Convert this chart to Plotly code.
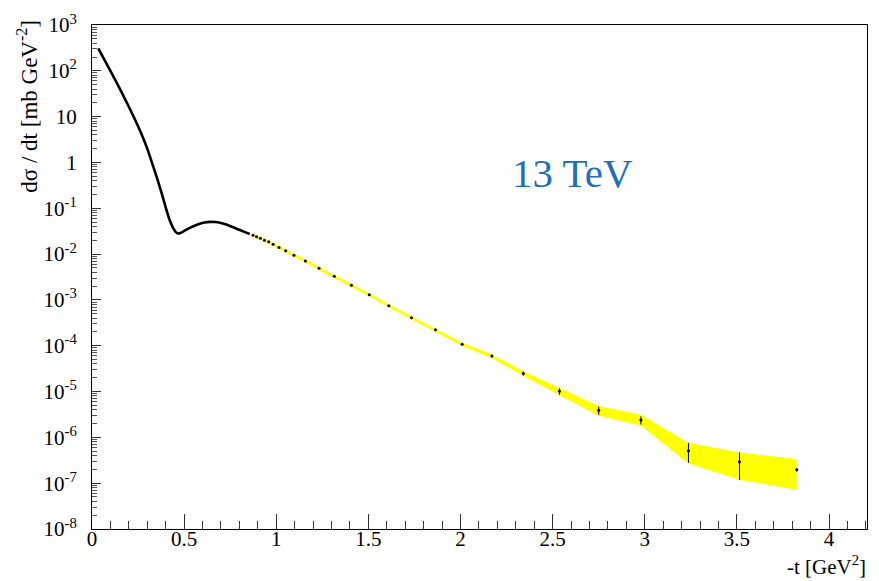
import plotly.graph_objects as go

# ---- data ----
# dense region (-t in GeV^2, dsigma/dt in mb/GeV^2)
t_dense = [0.034, 0.10, 0.15, 0.20, 0.25, 0.278, 0.30, 0.33, 0.36, 0.38, 0.40, 0.42, 0.44,
           0.455, 0.468, 0.48, 0.50, 0.51, 0.531, 0.56, 0.585, 0.61, 0.64, 0.67, 0.694,
           0.72, 0.748, 0.775, 0.802, 0.83, 0.856]
v_dense = [309, 100, 41.2, 16.4, 6.17, 3.39, 2.0, 0.871, 0.372, 0.200, 0.105, 0.0575, 0.0372,
           0.0302, 0.0282, 0.0288, 0.0320, 0.0337, 0.0373, 0.0422, 0.0460, 0.0488, 0.0505,
           0.0501, 0.0484, 0.0452, 0.0412, 0.0372, 0.0335, 0.0302, 0.0275]

# sparse points with error bars
t_pts = [0.874, 0.893, 0.914, 0.936, 0.959, 0.983, 1.015, 1.051, 1.096, 1.158, 1.232,
         1.315, 1.408, 1.505, 1.611, 1.734, 1.864, 2.009, 2.170, 2.341, 2.537, 2.750,
         2.979, 3.237, 3.514, 3.825]
v_pts = [0.0258, 0.0238, 0.0222, 0.0201, 0.0186, 0.0163, 0.0140, 0.0119, 0.00942, 0.00711,
         0.00488, 0.00328, 0.00210, 0.00130, 0.000743, 0.000410, 0.000222, 0.000108,
         5.94e-5, 2.48e-5, 1.01e-5, 3.90e-6, 2.38e-6, 5.13e-7, 2.92e-7, 1.96e-7]
e_pts = [0.0005, 0.0005, 0.0004, 0.0004, 0.0004, 0.0003, 0.0003, 0.0003, 0.0002, 0.0002,
         0.00015, 0.0001, 0.00006, 0.00004, 0.000025, 0.000014, 0.000008, 0.000004,
         4.0e-6, 2.5e-6, 1.6e-6, 0.8e-6, 0.48e-6, 2.35e-7, 1.75e-7, 0.15e-7]

# yellow uncertainty band
band_hi = [0.0272, 0.0251, 0.0234, 0.0212, 0.0196, 0.0172, 0.0148, 0.0126, 0.00995, 0.00751,
           0.00515, 0.00346, 0.00222, 0.00137, 0.000785, 0.000433, 0.000235, 0.000114,
           6.35e-5, 2.72e-5, 1.18e-5, 4.75e-6, 3.05e-6, 7.46e-7, 4.55e-7, 3.28e-7]
band_lo = [0.0245, 0.0226, 0.0211, 0.0191, 0.0177, 0.0155, 0.0133, 0.0113, 0.00895, 0.00675,
           0.00463, 0.00311, 0.00199, 0.00123, 0.000705, 0.000389, 0.000210, 0.000102,
           5.55e-5, 2.26e-5, 8.6e-6, 3.05e-6, 1.86e-6, 2.77e-7, 1.22e-7, 7.4e-8]

y_tick_exp = [3, 2, 1, 0, -1, -2, -3, -4, -5, -6, -7, -8]
y_tick_text = ["10<sup>3</sup>", "10<sup>2</sup>", "10", "1", "10<sup>-1</sup>", "10<sup>-2</sup>",
               "10<sup>-3</sup>", "10<sup>-4</sup>", "10<sup>-5</sup>", "10<sup>-6</sup>",
               "10<sup>-7</sup>", "10<sup>-8</sup>"]
x_tick_vals = [0, 0.5, 1, 1.5, 2, 2.5, 3, 3.5, 4]
x_tick_text = ["0", "0.5", "1", "1.5", "2", "2.5", "3", "3.5", "4"]

# ---- figure ----
W, H = 879, 581
ml, mr, mt, mb = 92, 11, 17, 52
FONT = "Liberation Serif, Times New Roman, serif"

fig = go.Figure()
fig.add_trace(go.Scatter(x=t_pts, y=band_lo, mode="lines",
                         line=dict(color="#FFFF00", width=1), showlegend=False, hoverinfo="skip"))
fig.add_trace(go.Scatter(x=t_pts, y=band_hi, mode="lines", fill="tonexty",
                         fillcolor="#FFFF00", line=dict(color="#FFFF00", width=1),
                         showlegend=False, hoverinfo="skip"))
fig.add_trace(go.Scatter(x=t_dense, y=v_dense, mode="lines",
                         line=dict(color="black", width=2.6, shape="spline", smoothing=0.5),
                         showlegend=False))
fig.add_trace(go.Scatter(x=t_pts, y=v_pts, mode="markers",
                         marker=dict(color="black", size=3, symbol="circle"),
                         error_y=dict(type="data", array=e_pts, color="black", thickness=1, width=0),
                         showlegend=False))

tick_vals_major = [10.0 ** e for e in y_tick_exp]
minor_vals = [m * 10.0 ** e for e in range(-8, 3) for m in range(2, 10)]

fig.update_layout(
    width=W, height=H,
    margin=dict(l=ml, r=mr, t=mt, b=mb),
    paper_bgcolor="white", plot_bgcolor="white",
    font=dict(family=FONT, color="black", size=21),
    xaxis=dict(range=[0, 4.206], showgrid=False, zeroline=False,
               showline=True, linecolor="black", linewidth=1, mirror=True,
               ticks="inside", ticklen=15, tickcolor="#333", tickwidth=1,
               tickmode="array", tickvals=x_tick_vals, ticktext=x_tick_text,
               tickfont=dict(family=FONT, size=21), ticklabelstandoff=-9,
               minor=dict(ticks="inside", ticklen=8, dtick=0.1, tick0=0, tickcolor="#333", showgrid=False)),
    yaxis=dict(type="log", range=[-8, 3], showgrid=False, zeroline=False,
               showline=True, linecolor="black", linewidth=1, mirror=True,
               ticks="inside", ticklen=9, tickcolor="#333", tickwidth=1,
               tickmode="array", tickvals=tick_vals_major, ticktext=y_tick_text,
               tickfont=dict(family=FONT, size=21), ticklabelstandoff=10,
               minor=dict(ticks="inside", ticklen=5, tickmode="array", tickvals=minor_vals,
                          tickcolor="#555", showgrid=False)),
)

pw = W - ml - mr
ph = H - mt - mb
def px(xp):
    return (xp - ml) / pw
def py(yp):
    return (H - mb - yp) / ph

fig.add_annotation(text="-t [GeV<sup>2</sup>]", xref="paper", yref="paper",
                   x=px(869), y=py(582), xanchor="right", yanchor="bottom", showarrow=False,
                   font=dict(family=FONT, size=21, color="black"))
fig.add_annotation(text="dσ / dt [mb GeV<sup>-2</sup>]", xref="paper", yref="paper",
                   x=px(28), y=py(10), xanchor="center", yanchor="top", textangle=-90,
                   showarrow=False, font=dict(family=FONT, size=23, color="black"))
fig.add_annotation(text="13 TeV", xref="paper", yref="paper",
                   x=px(573), y=py(167), xanchor="center", yanchor="middle", showarrow=False,
                   font=dict(family=FONT, size=41, color="#1F6FBF"))

fig.write_html("out.html")
